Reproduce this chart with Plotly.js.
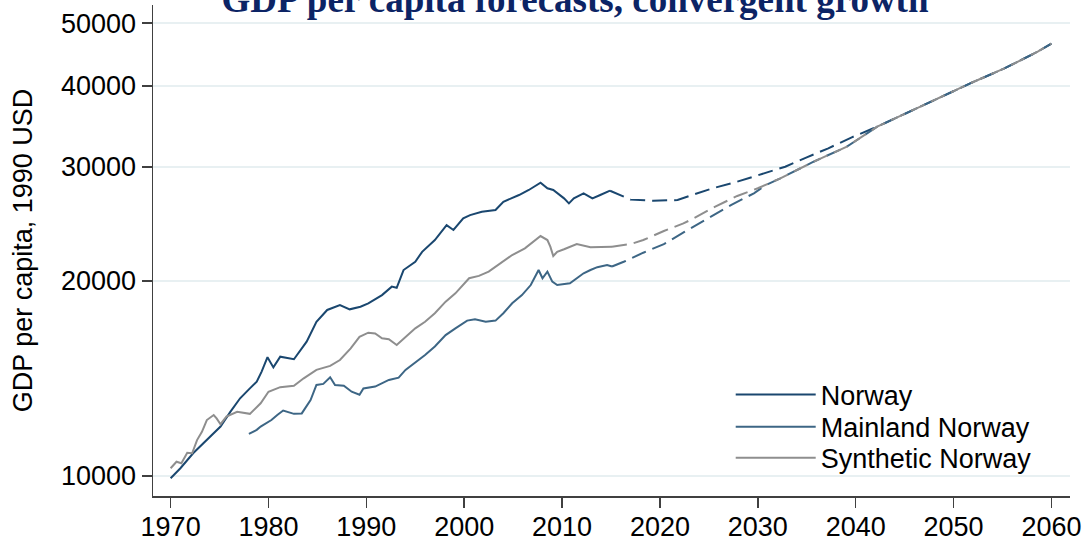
<!DOCTYPE html>
<html>
<head>
<meta charset="utf-8">
<script src="https://cdn.plot.ly/plotly-3.0.1.min.js"></script>
<style>
  html, body { margin: 0; padding: 0; background: #ffffff; }
  #chart { width: 1087px; height: 542px; }
</style>
</head>
<body>
<div id="chart"></div>
<script>
// ---------- Data ----------
const norwayYears = [1970.0, 1971.0, 1972.3, 1974.0, 1975.1, 1976.1, 1977.1, 1978.1, 1978.8, 1979.3,
  1979.9, 1980.5, 1981.2, 1982.6, 1983.9, 1984.9, 1986.0, 1987.3, 1988.3, 1989.4,
  1990.2, 1991.6, 1992.6, 1993.1, 1993.8, 1995.0, 1995.7, 1997.0, 1998.2, 1998.9,
  1999.9, 2000.6, 2001.8, 2003.2, 2004.0, 2005.6, 2006.6, 2007.8, 2008.5, 2009.1,
  2010.2, 2010.7, 2011.2, 2012.2, 2013.1, 2013.9, 2014.9];
const norwayGDP = [9920, 10280, 10840, 11500, 11920, 12560, 13180, 13650, 13980, 14490,
  15250, 14710, 15280, 15140, 16120, 17300, 18040, 18360, 18080, 18250,
  18470, 19020, 19600, 19520, 20790, 21410, 22180, 23130, 24390, 23970,
  24980, 25270, 25570, 25730, 26500, 27140, 27630, 28360, 27800, 27630,
  26820, 26350, 26820, 27310, 26820, 27140, 27560];

const norwayFcYears = [2014.9, 2016.0, 2017.0, 2019.3, 2021.8, 2023.3, 2025.4, 2027.9, 2030.2, 2032.8,
  2035.0, 2037.2, 2039.6, 2042.2, 2046.6, 2051.7, 2055.2, 2058.6, 2060.0];
const norwayFcGDP = [27560, 27100, 26700, 26600, 26660, 27140, 27800, 28460, 29140, 30010,
  31030, 32040, 33320, 34600, 37150, 40360, 42570, 45170, 46500];

const mainlandYears = [1978.0, 1978.8, 1979.2, 1979.8, 1980.3, 1980.9, 1981.5, 1982.6, 1983.4, 1984.3,
  1984.9, 1985.6, 1986.3, 1986.8, 1987.7, 1988.5, 1989.3, 1989.7, 1990.9, 1992.3,
  1993.3, 1994.0, 1995.0, 1996.0, 1997.0, 1998.1, 1999.1, 2000.3, 2001.1, 2002.2,
  2003.2, 2004.0, 2004.9, 2005.9, 2006.8, 2007.6, 2008.0, 2008.5, 2009.0, 2009.5,
  2010.8, 2011.5, 2012.2, 2012.9, 2013.6, 2014.6, 2015.1];
const mainlandGDP = [11610, 11780, 11920, 12060, 12200, 12420, 12620, 12470, 12490, 13100,
  13820, 13870, 14200, 13820, 13780, 13490, 13350, 13650, 13740, 14070,
  14180, 14580, 14960, 15370, 15840, 16500, 16900, 17370, 17450, 17300,
  17370, 17830, 18470, 19020, 19710, 20790, 20190, 20670, 19950, 19710,
  19830, 20190, 20550, 20790, 21000, 21170, 21050];

const mainlandFcYears = [2015.1, 2016.3, 2018.3, 2020.4, 2022.5, 2025.3, 2027.3, 2029.6, 2030.8, 2032.3,
  2035.7, 2039.1, 2042.2, 2046.6, 2051.7, 2055.2, 2058.6, 2060.0];
const mainlandFcGDP = [21050, 21410, 22110, 22800, 23800, 25130, 26200, 27310, 28100, 28800,
  30550, 32230, 34600, 37150, 40360, 42570, 45170, 46500];

const syntheticYears = [1970.0, 1970.6, 1971.1, 1971.7, 1972.2, 1972.7, 1973.2, 1973.7, 1974.4, 1974.7,
  1975.1, 1975.7, 1976.8, 1977.8, 1978.1, 1979.2, 1980.0, 1981.2, 1982.6, 1983.6,
  1984.9, 1986.3, 1987.3, 1988.4, 1989.3, 1990.2, 1990.9, 1991.6, 1992.3, 1993.1,
  1994.0, 1995.0, 1996.0, 1997.0, 1998.1, 1999.1, 2000.5, 2001.5, 2002.5, 2003.5,
  2004.9, 2006.2, 2007.8, 2008.5, 2008.8, 2009.1, 2009.5, 2010.2, 2011.5, 2012.9,
  2013.9, 2015.1];
const syntheticGDP = [10280, 10520, 10460, 10860, 10840, 11360, 11700, 12200, 12420, 12270,
  12020, 12350, 12560, 12490, 12470, 12950, 13490, 13710, 13780, 14150,
  14580, 14790, 15100, 15740, 16400, 16640, 16590, 16310, 16260, 15930,
  16400, 16900, 17300, 17830, 18580, 19140, 20190, 20360, 20670, 21170,
  21930, 22460, 23460, 23130, 22590, 21850, 22180, 22380, 22800, 22540,
  22540, 22590];

const syntheticFcYears = [2015.1, 2017.0, 2018.3, 2020.4, 2022.4, 2023.1, 2025.6, 2027.9, 2030.0, 2032.3,
  2035.7, 2039.1, 2042.2, 2046.6, 2051.7, 2055.2, 2058.6, 2060.0];
const syntheticFcGDP = [22590, 22800, 23130, 23880, 24540, 24830, 26030, 27050, 27800, 28800,
  30550, 32230, 34600, 37150, 40360, 42570, 45170, 46500];

const seriesNames = ['Norway', 'Mainland Norway', 'Synthetic Norway'];
const xTickVals = [1970, 1980, 1990, 2000, 2010, 2020, 2030, 2040, 2050, 2060];
const yTickVals = [10000, 20000, 30000, 40000, 50000];
const yTickText = ['10000', '20000', '30000', '40000', '50000'];

// ---------- Styles ----------
const cNorway = '#1a476f';
const cMainland = '#3d6685';
const cSynthetic = '#8e8e8e';
const dashPattern = '15px,7px';
const lw = 2;
const sans = 'Liberation Sans, Arial, sans-serif';

const traces = [
  { x: norwayYears, y: norwayGDP, name: seriesNames[0], type: 'scatter', mode: 'lines',
    line: { color: cNorway, width: lw }, legend: 'legend' },
  { x: norwayFcYears, y: norwayFcGDP, name: seriesNames[0] + ' forecast', type: 'scatter', mode: 'lines',
    line: { color: cNorway, width: lw, dash: dashPattern }, showlegend: false },
  { x: mainlandYears, y: mainlandGDP, name: seriesNames[1], type: 'scatter', mode: 'lines',
    line: { color: cMainland, width: lw }, legend: 'legend2' },
  { x: mainlandFcYears, y: mainlandFcGDP, name: seriesNames[1] + ' forecast', type: 'scatter', mode: 'lines',
    line: { color: cMainland, width: lw, dash: dashPattern }, showlegend: false },
  { x: syntheticYears, y: syntheticGDP, name: seriesNames[2], type: 'scatter', mode: 'lines',
    line: { color: cSynthetic, width: lw }, legend: 'legend3' },
  { x: syntheticFcYears, y: syntheticFcGDP, name: seriesNames[2] + ' forecast', type: 'scatter', mode: 'lines',
    line: { color: cSynthetic, width: lw, dash: dashPattern }, showlegend: false }
];

const legendBase = {
  xref: 'paper', yref: 'paper', x: 0.630, xanchor: 'left', yanchor: 'middle',
  bgcolor: 'rgba(0,0,0,0)', borderwidth: 0, itemwidth: 80,
  font: { family: sans, size: 27, color: '#000000' }
};

const layout = {
  width: 1087, height: 542,
  paper_bgcolor: '#ffffff', plot_bgcolor: '#ffffff',
  margin: { l: 153, r: 17, t: 5, b: 46, pad: 0 },
  title: {
    text: '<b>GDP per capita forecasts, convergent growth</b>',
    font: { family: 'Liberation Serif, Times New Roman, serif', size: 37, color: '#0c2465' },
    x: 0.529, xref: 'container', xanchor: 'center',
    y: 0.978, yref: 'container', yanchor: 'bottom'
  },
  showlegend: true,
  legend: Object.assign({}, legendBase, { y: 0.2057 }),
  legend2: Object.assign({}, legendBase, { y: 0.1399 }),
  legend3: Object.assign({}, legendBase, { y: 0.0768 }),
  xaxis: {
    range: [1968.2, 2061.9],
    tickmode: 'array', tickvals: xTickVals,
    showgrid: false, zeroline: false,
    showline: true, linecolor: '#404040', linewidth: 1.5,
    ticks: 'outside', ticklen: 10, tickwidth: 1.5, tickcolor: '#404040',
    ticklabelstandoff: -4,
    tickfont: { family: sans, size: 27, color: '#000000' }
  },
  yaxis: {
    type: 'log',
    range: [3.9691, 4.7269],
    tickmode: 'array', tickvals: yTickVals, ticktext: yTickText,
    showgrid: true, gridcolor: '#e8f0f2', gridwidth: 2,
    zeroline: false,
    showline: true, linecolor: '#404040', linewidth: 1.5,
    ticks: 'outside', ticklen: 10, tickwidth: 1.5, tickcolor: '#404040',
    tickfont: { family: sans, size: 27, color: '#000000' },
    title: { text: 'GDP per capita, 1990 USD', font: { family: sans, size: 27, color: '#000000' }, standoff: 20 }
  }
};

Plotly.newPlot('chart', traces, layout, { staticPlot: true, displayModeBar: false });
</script>
</body>
</html>
